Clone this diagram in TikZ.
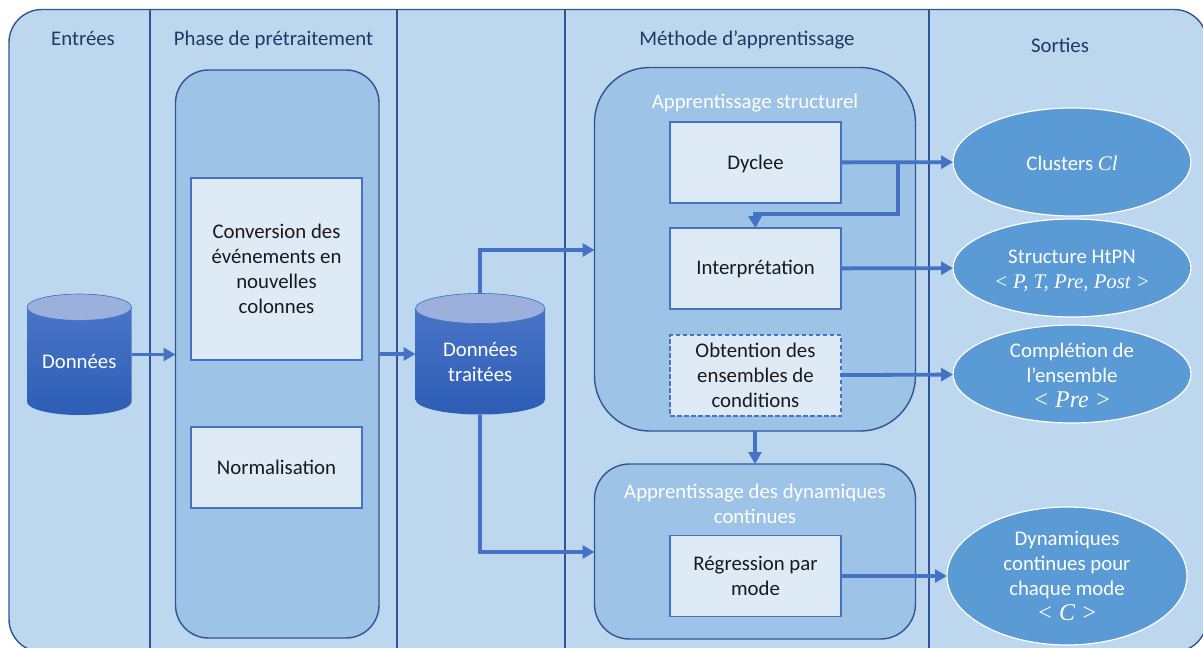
\documentclass[tikz,border=0pt]{standalone}
\usepackage{fontspec}
\setmainfont{Carlito}
\newfontfamily\mathfont{Liberation Serif}
\usepackage{xcolor}
\usepackage{tikz}
\usetikzlibrary{positioning, calc, arrows.meta, shapes.geometric}

\definecolor{FrameFill}{HTML}{BDD7EE}
\definecolor{FrameLine}{HTML}{2F5597}
\definecolor{PanelFill}{HTML}{9DC3E6}
\definecolor{BoxFill}{HTML}{DEEBF7}
\definecolor{BoxLine}{HTML}{4472C4}
\definecolor{OutFill}{HTML}{5B9BD5}
\definecolor{HeadText}{HTML}{203864}
\definecolor{CylTop}{HTML}{9CB0DE}
\definecolor{CylHigh}{HTML}{4C78CA}
\definecolor{CylLow}{HTML}{2E5DB6}

\newcommand{\MathText}[1]{{\mathfont\itshape #1}}
\newcommand{\MathBig}[1]{{\fontsize{24}{25}\selectfont\mathfont\itshape #1}}

\begin{document}
\begin{tikzpicture}[x=1pt, y=-1pt,
		every node/.style={font=\fontsize{20.8}{25}\selectfont, align=center, outer sep=0pt, inner sep=0pt},
		HeadNode/.style={text=HeadText},
		PanelNode/.style={rectangle, rounded corners=#1, draw=FrameLine, line width=1.4pt, fill=PanelFill, anchor=north west},
		WhiteText/.style={text=white},
		StepNode/.style={rectangle, draw=BoxLine, line width=1.3pt, fill=BoxFill, text=black!90, minimum width=171pt, minimum height=81pt},
		DbNode/.style={rectangle, minimum height=121pt},
		DbBody/.style={top color=CylHigh, bottom color=CylLow},
		DbTop/.style={draw=BoxLine, line width=0.6pt, fill=CylTop},
		OutNode/.style={ellipse, draw=white, line width=1.2pt, fill=OutFill, minimum width=238pt},
		Flow/.style={draw=BoxLine, line width=3.8pt, -{Triangle[length=12pt, width=13pt]}}]

	\clip (0,0) rectangle (1203,648);

	% Background
	\draw[fill=FrameFill, draw=FrameLine, line width=1.4pt, rounded corners=33pt] (9,9.5) rectangle (1207,652);
	\draw[FrameLine, line width=1.4pt] (150,9.5) -- (150,648);
	\draw[FrameLine, line width=1.4pt] (397,9.5) -- (397,648);
	\draw[FrameLine, line width=1.4pt] (565,9.5) -- (565,648);
	\draw[FrameLine, line width=1.4pt] (929,9.5) -- (929,648);

	% Headers
	\node[HeadNode] (InHead) at (83,38) {Entrées};
	\node[HeadNode] (PreHead) at (273.5,39.5) {Phase de prétraitement};
	\node[HeadNode] (LearnHead) at (747,39.5) {Méthode d’apprentissage};
	\node[HeadNode] (OutHead) at (1060,45) {Sorties};

	% Panels
	\node[PanelNode=33pt, minimum width=203.5pt, minimum height=568pt] (PrePanel) at (175.5,70) {};
	\node[PanelNode=55pt, minimum width=321pt, minimum height=363.5pt] (StructPanel) at (594.5,67.5) {};
	\node[PanelNode=35pt, minimum width=321pt, minimum height=175pt] (DynPanel) at (594.5,464) {};

	\node[WhiteText] (StructTitle) at (755,103) {Apprentissage structurel};
	\node[WhiteText] (DynTitle) at (755,503.5) {Apprentissage des dynamiques\\continues};

	% Steps
	\node[StepNode, minimum height=182pt] (Conversion) at (276.5,269) {Conversion des\\événements en\\nouvelles\\colonnes};
	\node[StepNode] (Normal) [below=67pt of Conversion] {Normalisation};

	\node[StepNode, text depth=0pt] (Dyclee) at (755.5,162.5) {Dyclee};
	\node[StepNode] (Interp) [below=25pt of Dyclee] {Interprétation};
	\node[StepNode, dash pattern=on 4.5pt off 2.5pt] (Cond) [below=26pt of Interp] {Obtention des\\ensembles de\\conditions};
	\node[StepNode] (Regress) at (755.5,576) {Régression par\\mode};

	% Databases
	\node[DbNode, minimum width=104.5pt] (Data) at (79.25,354.5) {};
	\node[DbNode, minimum width=129.5pt] (Treated) at (480.25,354) {};

	\shade[DbBody] ($(Data.south west)+(0,-13.2)$) arc[start angle=180, end angle=360, x radius=52.25pt, y radius=13.2pt]
		-- ($(Data.north east)+(0,13.2)$) arc[start angle=0, end angle=180, x radius=52.25pt, y radius=13.2pt] -- cycle;
	\shade[DbBody] ($(Treated.south west)+(0,-15)$) arc[start angle=180, end angle=360, x radius=64.75pt, y radius=15pt]
		-- ($(Treated.north east)+(0,15)$) arc[start angle=0, end angle=180, x radius=64.75pt, y radius=15pt] -- cycle;

	\draw[DbTop] ($(Data.north)+(0,13.2)$) ellipse (52.25pt and 13.2pt);
	\draw[DbTop] ($(Treated.north)+(0,15)$) ellipse (64.75pt and 15pt);

	\node[WhiteText] (DataText) at (79.25,361) {Données};
	\node[WhiteText] (TreatedText) at (480.25,362) {Données\\traitées};

	% Outputs
	\node[OutNode, minimum height=108pt] (Clusters) at (1072,162) {};
	\node[OutNode, minimum height=98pt] (HtPN) at (1072,268) {};
	\node[OutNode, minimum height=98pt] (Complete) at (1072,374) {};
	\node[OutNode, minimum width=240pt, minimum height=138pt] (Dynamics) at (1067,576) {};

	\node[WhiteText] (ClustersText) at (1072,163) {Clusters \MathText{Cl}};
	\node[WhiteText] (HtPNText) at (1072,271) {Structure HtPN\\\MathText{< P, T, Pre, Post >}};
	\node[WhiteText] (CompleteText) at (1072,375) {Complétion de\\l’ensemble\\\MathBig{< Pre >}};
	\node[WhiteText] (DynamicsText) at (1067,576) {Dynamiques\\continues pour\\chaque mode\\\MathBig{< C >}};

	% Lines
	\coordinate (StructIn) at (StructPanel.west |- 0,250);
	\coordinate (DynIn) at (DynPanel.west |- 0,552);
	\coordinate (Branch) at (898,162.5);
	\coordinate (InterpIn) at (755,214);

	\draw[Flow] (Data.east) -- (PrePanel.west |- Data.east);
	\draw[Flow] (PrePanel.east |- Treated.west) -- (Treated.west);
	\draw[Flow] (Treated.north) |- (StructIn);
	\draw[Flow] (Treated.south) |- (DynIn);
	\draw[Flow] (Dyclee) -- (Clusters);
	\draw[Flow] (Branch) |- (InterpIn) -- (Interp.north);
	\draw[Flow] (Interp) -- (HtPN);
	\draw[Flow] (Cond) -- (Complete);
	\draw[Flow] (StructPanel) -- (DynPanel);
	\draw[Flow] (Regress) -- (Dynamics);
\end{tikzpicture}
\end{document}
